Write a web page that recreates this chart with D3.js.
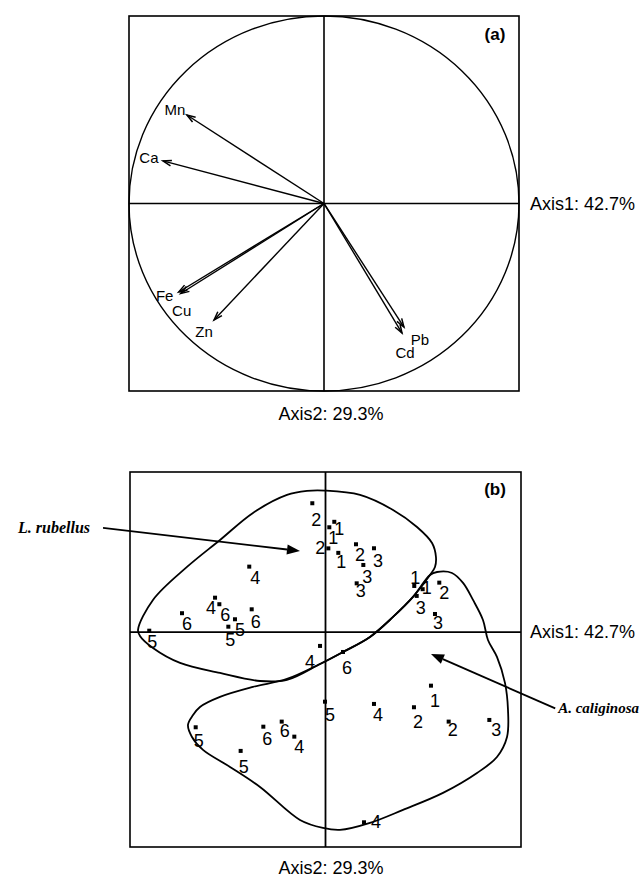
<!DOCTYPE html>
<html>
<head>
<meta charset="utf-8">
<script src="https://cdn.jsdelivr.net/npm/d3@7"></script>
<style>
  body { margin: 0; background: #fff; }
  svg text { font-family: "Liberation Sans", Arial, sans-serif; fill: #000; }
</style>
</head>
<body>
<div id="chart"></div>
<script>
  // ---- panel (a): correlation circle, variable loadings
  var elements = ["Mn", "Ca", "Fe", "Cu", "Zn", "Pb", "Cd"];
  var axis1Load = [-0.703, -0.826, -0.745, -0.735, -0.564, 0.410, 0.400];
  var axis2Load = [0.472, 0.227, -0.472, -0.480, -0.621, -0.659, -0.691];

  // ---- panel (b): sample scores (label = sampling site)
  var siteLabels = ["2","1","1","2","1","2","3","3","3","1","1","3","2","3",
                    "4","4","6","5","6","6","5","5","4","6",
                    "5","4","2","1","2","3","5","6","6","4","5","4"];
  var score1 = [-0.135, 0.090, 0.039, 0.029, 0.131, 0.312, 0.496, 0.387, 0.319, 0.908, 0.994, 0.933, 1.164, 1.120,
                -0.780, -1.130, -1.086, -0.926, -0.755, -1.468, -0.994, -1.803, -0.056, 0.179,
                -0.005, 0.496, 0.905, 1.079, 1.260, 1.676, -1.328, -0.636, -0.448, -0.319, -0.868, 0.394];
  var score2 = [1.320, 1.130, 1.074, 0.858, 0.812, 0.900, 0.859, 0.688, 0.500, 0.473, 0.440, 0.371, 0.507, 0.186,
                0.671, 0.353, 0.286, 0.132, 0.234, 0.194, 0.056, 0.015, -0.141, -0.203,
                -0.712, -0.735, -0.769, -0.548, -0.916, -0.899, -0.974, -0.968, -0.916, -1.070, -1.216, -1.947];

  // hand-drawn group outlines (in axis units)
  var rubellusHull = [[-1.918,0.023],[-1.765,0.330],[-1.417,0.668],[-1.079,0.944],[-0.742,1.221],[-0.394,1.405],
    [-0.189,1.446],[-0.005,1.449],[0.353,1.405],[0.691,1.251],[0.936,1.077],[1.090,0.913],[1.130,0.770],
    [1.120,0.668],[1.069,0.586],[0.895,0.361],[0.691,0.156],[0.455,-0.049],[0.179,-0.203],[-0.056,-0.326],
    [-0.394,-0.489],[-0.670,-0.500],[-1.079,-0.418],[-1.488,-0.315],[-1.765,-0.162],[-1.898,-0.039]];
  var caliginosaHull = [[1.069,0.586],[1.141,0.616],[1.294,0.606],[1.407,0.504],[1.509,0.330],[1.611,0.125],
    [1.662,-0.080],[1.754,-0.254],[1.836,-0.520],[1.867,-0.796],[1.857,-1.073],[1.754,-1.278],[1.550,-1.442],
    [1.202,-1.646],[0.793,-1.820],[0.455,-1.953],[0.148,-2.025],[-0.026,-2.005],[-0.261,-1.923],[-0.670,-1.585],
    [-0.977,-1.380],[-1.253,-1.206],[-1.366,-1.073],[-1.407,-0.950],[-1.355,-0.848],[-1.284,-0.766],[-1.079,-0.663],
    [-0.742,-0.561],[-0.394,-0.479],[-0.056,-0.326],[0.179,-0.203],[0.455,-0.049],[0.691,0.156],[0.895,0.361]];

  var species = ["L. rubellus", "A. caliginosa"];
  var speciesFrom = [[-2.276, 1.067], [2.35, -0.78]];
  var speciesTo = [[-0.261, 0.831], [1.079, -0.223]];

  var axis1Title = "Axis1: 42.7%", axis2Title = "Axis2: 29.3%";

  // ---- layout (pixel nudges, not data)
  var elemLabelOffset = [[-12,-6],[-14,-3],[-14,3],[1,17],[-10,12],[16,12],[3,19]];
  var siteLabelOffset = [[4,17],[5,7],[4,11],[-8,0],[3,9],[4,11],[4,13],[4,12],[4,8],[1,-8],[4,-1],[4,12],[5,10],[3,9],
    [6,11],[-4,10],[6,11],[5,11],[4,13],[5,11],[2,13],[3,11],[-10,16],[4,16],
    [5,13],[4,11],[4,15],[4,15],[4,8],[7,10],[3,14],[4,12],[3,9],[5,10],[3,16],[12,0]];

  var W = 643, H = 877;
  var svg = d3.select("#chart").append("svg")
    .attr("width", W).attr("height", H);

  // ================= panel (a)
  var xa = d3.scaleLinear().domain([-1, 1]).range([129, 519]);
  var ya = d3.scaleLinear().domain([-1, 1]).range([391, 16]);
  var ga = svg.append("g");

  ga.append("rect")
    .attr("x", xa(-1)).attr("y", ya(1))
    .attr("width", xa(1) - xa(-1)).attr("height", ya(-1) - ya(1))
    .attr("fill", "none").attr("stroke", "#000").attr("stroke-width", 1.6);
  ga.append("ellipse")
    .attr("cx", xa(0)).attr("cy", ya(0))
    .attr("rx", xa(1) - xa(0)).attr("ry", ya(0) - ya(1))
    .attr("fill", "none").attr("stroke", "#000").attr("stroke-width", 1.4);
  ga.append("line").attr("x1", xa(-1)).attr("x2", xa(1)).attr("y1", ya(0)).attr("y2", ya(0))
    .attr("stroke", "#000").attr("stroke-width", 1.6);
  ga.append("line").attr("x1", xa(0)).attr("x2", xa(0)).attr("y1", ya(1)).attr("y2", ya(-1))
    .attr("stroke", "#000").attr("stroke-width", 1.6);

  var loads = elements.map(function(e, i) {
    return {name: e, x: axis1Load[i], y: axis2Load[i], off: elemLabelOffset[i]};
  });

  // arrow shafts + open heads
  loads.forEach(function(d) {
    var x0 = xa(0), y0 = ya(0), x1 = xa(d.x), y1 = ya(d.y);
    var ang = Math.atan2(y1 - y0, x1 - x0), L = 9, spread = 0.32;
    ga.append("line")
      .attr("x1", x0).attr("y1", y0).attr("x2", x1).attr("y2", y1)
      .attr("stroke", "#000").attr("stroke-width", 1.4);
    ga.append("path")
      .attr("d", "M" + (x1 - L * Math.cos(ang - spread)) + "," + (y1 - L * Math.sin(ang - spread)) +
                 "L" + x1 + "," + y1 +
                 "L" + (x1 - L * Math.cos(ang + spread)) + "," + (y1 - L * Math.sin(ang + spread)))
      .attr("fill", "none").attr("stroke", "#000").attr("stroke-width", 1.5);
  });

  ga.selectAll("text.elem")
    .data(loads).enter().append("text")
      .attr("class", "elem")
      .attr("x", function(d) { return xa(d.x) + d.off[0]; })
      .attr("y", function(d) { return ya(d.y) + d.off[1]; })
      .attr("text-anchor", "middle")
      .attr("dominant-baseline", "central")
      .style("font-size", "15px")
      .text(function(d) { return d.name; });

  ga.append("text").attr("x", 495).attr("y", 34)
    .attr("text-anchor", "middle").attr("dominant-baseline", "central")
    .style("font-size", "17px").style("font-weight", "bold").text("(a)");
  ga.append("text").attr("x", 530).attr("y", ya(0))
    .attr("dominant-baseline", "central").style("font-size", "18px").text(axis1Title);
  ga.append("text").attr("x", 331).attr("y", 414)
    .attr("text-anchor", "middle").attr("dominant-baseline", "central")
    .style("font-size", "18px").text(axis2Title);

  // ================= panel (b)
  var xb = d3.scaleLinear().domain([-2, 2]).range([130, 521]);
  var yb = d3.scaleLinear().domain([-2.2, 1.64]).range([847, 472]);
  var gb = svg.append("g");

  gb.append("rect")
    .attr("x", xb(-2)).attr("y", yb(1.64))
    .attr("width", xb(2) - xb(-2)).attr("height", yb(-2.2) - yb(1.64))
    .attr("fill", "none").attr("stroke", "#000").attr("stroke-width", 1.6);
  gb.append("line").attr("x1", xb(-2)).attr("x2", xb(2)).attr("y1", yb(0)).attr("y2", yb(0))
    .attr("stroke", "#000").attr("stroke-width", 1.8);
  gb.append("line").attr("x1", xb(0)).attr("x2", xb(0)).attr("y1", yb(1.64)).attr("y2", yb(-2.2))
    .attr("stroke", "#000").attr("stroke-width", 1.8);

  var hullLine = d3.line()
    .x(function(d) { return xb(d[0]); })
    .y(function(d) { return yb(d[1]); })
    .curve(d3.curveCatmullRomClosed.alpha(0.5));

  gb.selectAll("path.hull")
    .data([rubellusHull, caliginosaHull]).enter().append("path")
      .attr("class", "hull")
      .attr("d", hullLine)
      .attr("fill", "none").attr("stroke", "#000").attr("stroke-width", 1.8);

  var pts = siteLabels.map(function(s, i) {
    return {lab: s, x: score1[i], y: score2[i], off: siteLabelOffset[i]};
  });

  gb.selectAll("rect.pt")
    .data(pts).enter().append("rect")
      .attr("class", "pt")
      .attr("x", function(d) { return xb(d.x) - 2; })
      .attr("y", function(d) { return yb(d.y) - 2; })
      .attr("width", 4).attr("height", 4)
      .attr("fill", "#000");

  gb.selectAll("text.site")
    .data(pts).enter().append("text")
      .attr("class", "site")
      .attr("x", function(d) { return xb(d.x) + d.off[0]; })
      .attr("y", function(d) { return yb(d.y) + d.off[1]; })
      .attr("text-anchor", "middle")
      .attr("dominant-baseline", "central")
      .style("font-size", "18px")
      .text(function(d) { return d.lab; });

  // species pointers
  species.forEach(function(name, i) {
    var x0 = xb(speciesFrom[i][0]), y0 = yb(speciesFrom[i][1]);
    var x1 = xb(speciesTo[i][0]), y1 = yb(speciesTo[i][1]);
    var ang = Math.atan2(y1 - y0, x1 - x0), L = 13, hw = 5;
    var bx = x1 - L * Math.cos(ang), by = y1 - L * Math.sin(ang);
    gb.append("line")
      .attr("x1", x0).attr("y1", y0).attr("x2", bx).attr("y2", by)
      .attr("stroke", "#000").attr("stroke-width", 1.8);
    gb.append("path")
      .attr("d", "M" + x1 + "," + y1 +
                 "L" + (bx + hw * Math.sin(ang)) + "," + (by - hw * Math.cos(ang)) +
                 "L" + (bx - hw * Math.sin(ang)) + "," + (by + hw * Math.cos(ang)) + "Z")
      .attr("fill", "#000");
    gb.append("text")
      .attr("x", i === 0 ? x0 - 13 : x0 + 3)
      .attr("y", y0 + 5)
      .attr("text-anchor", i === 0 ? "end" : "start")
      .style("font-family", "'Liberation Serif', 'Times New Roman', serif")
      .style("font-size", i === 0 ? "16px" : "15px")
      .style("font-weight", "bold").style("font-style", "italic")
      .text(name);
  });

  gb.append("text").attr("x", 495).attr("y", 489)
    .attr("text-anchor", "middle").attr("dominant-baseline", "central")
    .style("font-size", "17px").style("font-weight", "bold").text("(b)");
  gb.append("text").attr("x", 530).attr("y", yb(0))
    .attr("dominant-baseline", "central").style("font-size", "18px").text(axis1Title);
  gb.append("text").attr("x", 331).attr("y", 868)
    .attr("text-anchor", "middle").attr("dominant-baseline", "central")
    .style("font-size", "18px").text(axis2Title);
</script>
</body>
</html>
